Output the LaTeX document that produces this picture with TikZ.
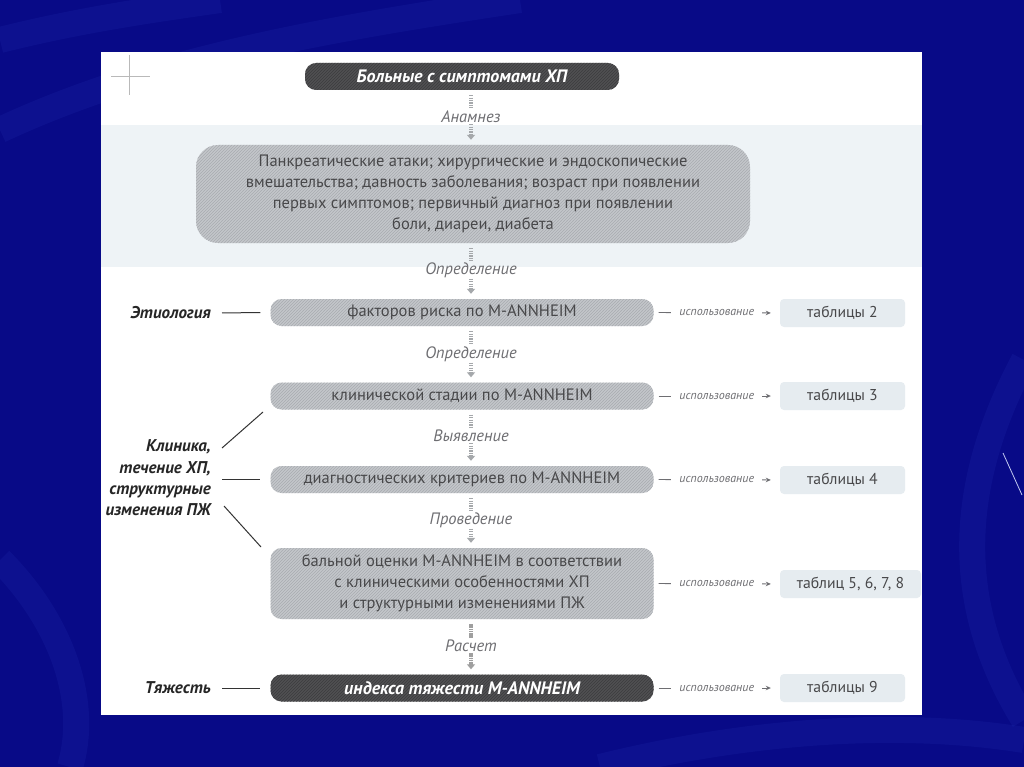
\documentclass[tikz,border=0pt]{standalone}
\usepackage{fontspec}
\setmainfont{PT Sans}
\usetikzlibrary{arrows.meta,patterns}
\definecolor{bgblue}{RGB}{8,10,135}
\definecolor{streak}{RGB}{50,75,205}
\definecolor{band}{RGB}{238,243,246}
\definecolor{boxgray}{RGB}{196,199,203}
\definecolor{boxhatch}{RGB}{168,171,176}
\definecolor{darkgr}{RGB}{80,80,82}
\definecolor{darkhatch}{RGB}{60,60,62}
\definecolor{boxtext}{RGB}{72,72,74}
\definecolor{tabfill}{RGB}{230,236,240}
\definecolor{lbltext}{RGB}{110,110,114}
\definecolor{conn}{RGB}{165,168,171}
\begin{document}
\begin{tikzpicture}[x=1pt,y=-1pt,
  gbox/.style={rounded corners=11pt, fill=boxgray, postaction={pattern=north east lines, pattern color=boxhatch}, text=boxtext, font=\fontsize{16.5}{21}\selectfont, align=center, inner sep=0pt, minimum width=383pt, minimum height=27pt},
  dbox/.style={rounded corners=11pt, fill=darkgr, postaction={pattern=north east lines, pattern color=darkhatch}, text=white, font=\fontsize{18}{20}\selectfont\bfseries\itshape, align=center, inner sep=0pt, minimum height=27pt},
  tabbox/.style={rounded corners=4pt, fill=tabfill, text=boxtext, font=\fontsize{15.7}{20}\selectfont, minimum width=125pt, minimum height=28pt, inner sep=0pt},
  side/.style={font=\fontsize{17}{21.3}\selectfont\bfseries\itshape, text=black!85, align=right, inner sep=0pt},
  vlbl/.style={font=\fontsize{16.5}{18}\selectfont\itshape, text=lbltext, inner sep=1pt},
  ulbl/.style={font=\fontsize{12}{14}\selectfont\itshape, text=lbltext, fill=white, inner xsep=8pt, inner ysep=1pt},
  vline/.style={draw=conn, line width=3.5pt, dash pattern=on 1.2pt off 1.2pt},
  varrow/.style={vline, -{Triangle[length=5pt,width=8pt]}},
  uline/.style={draw=lbltext, line width=0.9pt, -{Stealth[length=5pt,width=4.5pt]}, shorten <=5pt, shorten >=9pt},
  sline/.style={draw=black!80, line width=1pt},
]
\useasboundingbox (0,0) rectangle (1024,767);
% slide background
\fill[bgblue] (0,0) rectangle (1024,767);
\begin{scope}[opacity=0.12, line width=26pt, draw=streak]
\draw (0,130) .. controls (150,60) and (320,30) .. (520,0);
\draw (0,40) .. controls (80,20) and (150,10) .. (220,0);
\draw (0,560) .. controls (60,620) and (90,700) .. (70,767);
\draw (1024,360) .. controls (960,480) and (950,600) .. (1024,720);
\draw (600,767) .. controls (750,730) and (900,720) .. (1024,740);
\end{scope}
\draw[white!70!streak, line width=0.8pt] (1003,453) -- (1022,495);
% page
\fill[white] (101,52) rectangle (922,715);
\fill[band] (101,125) rectangle (922,267);
% crosshair
\draw[gray!55, line width=0.8pt] (129,55) -- (129,95);
\draw[gray!55, line width=0.8pt] (111,76) -- (150,76);

% main column
\node[dbox, minimum width=314pt] (top) at (462,76.5) {Больные с симптомами ХП};
\node[vlbl] (lA) at (471,117) {Анамнез};
\node[gbox, minimum width=554pt, minimum height=98pt, rounded corners=22pt] (big) at (473,194)
  {Панкреатические атаки; хирургические и эндоскопические\\
   вмешательства; давность заболевания; возраст при появлении\\
   первых симптомов; первичный диагноз при появлении\\
   боли, диареи, диабета};
\node[vlbl] (lB) at (471,270) {Определение};
\node[gbox] (f1) at (462,312.5) {факторов риска по M-ANNHEIM};
\node[vlbl] (lC) at (471,354) {Определение};
\node[gbox] (f2) at (462,396) {клинической стадии по M-ANNHEIM};
\node[vlbl] (lD) at (471,436) {Выявление};
\node[gbox] (f3) at (462,479.5) {диагностических критериев по M-ANNHEIM};
\node[vlbl] (lE) at (471,520) {Проведение};
\node[gbox, minimum height=71pt] (f4) at (462,583.5)
  {бальной оценки M-ANNHEIM в соответствии\\
   с клиническими особенностями ХП\\
   и структурными изменениями ПЖ};
\node[vlbl] (lF) at (471,646) {Расчет};
\node[dbox, minimum width=383pt] (f5) at (462,688) {индекса тяжести M-ANNHEIM};

% vertical connectors
\draw[vline, shorten <=5pt, shorten >=1pt] (top.south -| lA) -- (lA.north);
\draw[varrow, shorten >=5pt] (lA.south) -- (big.north -| lA);
\draw[vline, shorten <=5pt, shorten >=1pt] (big.south -| lB) -- (lB.north);
\draw[varrow, shorten >=5pt] (lB.south) -- (f1.north -| lB);
\draw[vline, shorten <=5pt, shorten >=1pt] (f1.south -| lC) -- (lC.north);
\draw[varrow, shorten >=5pt] (lC.south) -- (f2.north -| lC);
\draw[vline, shorten <=5pt, shorten >=1pt] (f2.south -| lD) -- (lD.north);
\draw[varrow, shorten >=5pt] (lD.south) -- (f3.north -| lD);
\draw[vline, shorten <=5pt, shorten >=1pt] (f3.south -| lE) -- (lE.north);
\draw[varrow, shorten >=5pt] (lE.south) -- (f4.north -| lE);
\draw[vline, draw=gray!75, dash pattern=on 1.6pt off 0.6pt, shorten <=5pt, shorten >=1pt] (f4.south -| lF) -- (lF.north);
\draw[varrow, draw=gray!75, fill=gray!75, dash pattern=on 1.6pt off 0.6pt, shorten >=5pt] (lF.south) -- (f5.north -| lF);

% tables
\node[tabbox] (t1) at (842.5,313) {таблицы 2};
\node[tabbox] (t2) at (842.5,396) {таблицы 3};
\node[tabbox] (t3) at (842.5,480) {таблицы 4};
\node[tabbox, minimum width=141pt] (t4) at (850.5,584) {таблиц 5, 6, 7, 8};
\node[tabbox] (t5) at (842.5,688) {таблицы 9};

\draw[uline] (f1.east) -- node[ulbl] {использование} (t1.west);
\draw[uline] (f2.east) -- node[ulbl] {использование} (t2.west);
\draw[uline] (f3.east) -- node[ulbl] {использование} (t3.west);
\draw[uline] (f4.east) -- node[ulbl] {использование} (t4.west);
\draw[uline] (f5.east) -- node[ulbl] {использование} (t5.west);

% side labels
\node[side, anchor=east] (etio) at (211,313) {Этиология};
\node[side, anchor=east] (klin) at (211,478) {Клиника,\\течение ХП,\\структурные\\изменения ПЖ};
\node[side, anchor=east] (tyazh) at (211,688) {Тяжесть};
\draw[sline, shorten <=11pt, shorten >=10pt] (etio.east) -- (f1.west);
\draw[sline, shorten <=11pt, shorten >=10pt] (klin.east |- f3) -- (f3.west);
\draw[sline, shorten <=11pt, shorten >=10pt] (tyazh.east) -- (f5.west);
\coordinate (k1s) at (222,448);
\coordinate (k1e) at (263,412);
\coordinate (k2s) at (224,506);
\coordinate (k2e) at (261,547);
\draw[sline] (k1s) -- (k1e);
\draw[sline] (k2s) -- (k2e);
\end{tikzpicture}
\end{document}
